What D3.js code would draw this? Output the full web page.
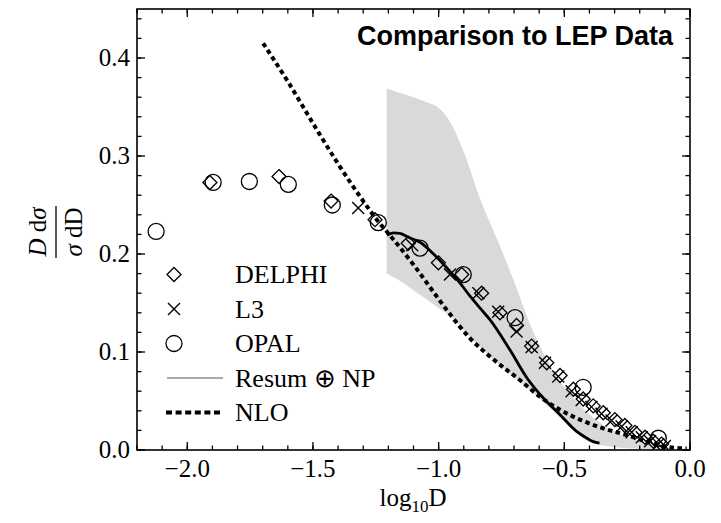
<!DOCTYPE html>
<html>
<head>
<meta charset="utf-8">
<script src="https://cdn.jsdelivr.net/npm/d3@7"></script>
<style>
  body { margin: 0; background: #fff; }
  svg { display: block; }
</style>
</head>
<body>
<script>
// ---- data ---------------------------------------------------------------
const xMajorTicks = [-2.0, -1.5, -1.0, -0.5, 0.0];
const yMajorTicks = [0.0, 0.1, 0.2, 0.3, 0.4];

// LEP measurements: [log10 D, (D/sigma) dsigma/dD]
const delphi = [
  [-1.910, 0.273], [-1.635, 0.279], [-1.428, 0.254], [-1.253, 0.235],
  [-1.121, 0.211], [-1.001, 0.191], [-0.908, 0.179], [-0.829, 0.160],
  [-0.756, 0.140], [-0.690, 0.127], [-0.630, 0.106], [-0.570, 0.089],
  [-0.517, 0.076], [-0.464, 0.062], [-0.425, 0.052], [-0.385, 0.045],
  [-0.345, 0.038], [-0.299, 0.031], [-0.259, 0.025], [-0.219, 0.018],
  [-0.179, 0.013], [-0.146, 0.009], [-0.113, 0.006]
];
const l3 = [
  [-1.320, 0.247], [-1.105, 0.209], [-0.955, 0.179], [-0.842, 0.160],
  [-0.763, 0.141], [-0.690, 0.121], [-0.630, 0.105], [-0.577, 0.089],
  [-0.524, 0.075], [-0.471, 0.060], [-0.431, 0.051], [-0.392, 0.044],
  [-0.352, 0.037], [-0.312, 0.030], [-0.272, 0.024], [-0.232, 0.018],
  [-0.192, 0.013], [-0.159, 0.009], [-0.126, 0.006], [-0.100, 0.004]
];
const opal = [
  [-2.124, 0.223], [-1.897, 0.273], [-1.753, 0.274], [-1.598, 0.271],
  [-1.423, 0.250], [-1.240, 0.232], [-1.074, 0.206], [-0.902, 0.179],
  [-0.696, 0.135], [-0.425, 0.064], [-0.126, 0.012]
];

// Resummed + non-perturbative prediction
const resumNP = [
  [-1.205, 0.219], [-1.180, 0.2215], [-1.154, 0.221], [-1.120, 0.217],
  [-1.074, 0.212], [-1.020, 0.200], [-0.968, 0.186], [-0.920, 0.172],
  [-0.875, 0.157], [-0.836, 0.145], [-0.796, 0.133], [-0.716, 0.102],
  [-0.650, 0.074], [-0.580, 0.052], [-0.517, 0.036], [-0.451, 0.019],
  [-0.410, 0.012], [-0.385, 0.0085], [-0.360, 0.007]
];

// Fixed-order NLO prediction
const nlo = [
  [-1.698, 0.415], [-1.600, 0.376], [-1.485, 0.327], [-1.400, 0.292],
  [-1.300, 0.254], [-1.240, 0.233], [-1.200, 0.221], [-1.100, 0.189],
  [-1.000, 0.154], [-0.968, 0.143], [-0.875, 0.114], [-0.780, 0.092],
  [-0.677, 0.0714], [-0.600, 0.055], [-0.517, 0.041], [-0.438, 0.031],
  [-0.345, 0.022], [-0.252, 0.0153], [-0.173, 0.0085], [-0.080, 0.0027],
  [-0.013, 0.0015]
];

// Theory uncertainty band
const bandX  = [-1.207, -1.15, -1.10, -1.05, -0.995, -0.95, -0.903, -0.836, -0.769,
                -0.703, -0.637, -0.57, -0.517, -0.464, -0.42, -0.385, -0.30, -0.20, -0.12];
const bandHi = [0.369, 0.364, 0.360, 0.355, 0.348, 0.333, 0.306, 0.257, 0.216,
                0.174, 0.129, 0.092, 0.070, 0.053, 0.041, 0.033, 0.019, 0.009, 0.003];
const bandLo = [0.180, 0.172, 0.163, 0.154, 0.144, 0.136, 0.123, 0.105, 0.089,
                0.075, 0.061, 0.046, 0.033, 0.020, 0.011, 0.007, 0.003, 0.001, 0.000];

const legendLabels = ["DELPHI", "L3", "OPAL", "Resum \u2295 NP", "NLO"];
const titleText = "Comparison to LEP Data";

// ---- layout -------------------------------------------------------------
const W = 721, H = 523;
const plotL = 137, plotR = 690, plotT = 9, plotB = 450;
const serif = "'Liberation Serif', 'Times New Roman', serif";
const sans = "'Liberation Sans', Arial, sans-serif";

const x = d3.scaleLinear().domain([-2.2, 0]).range([plotL, plotR]);
const y = d3.scaleLinear().domain([0, 0.45]).range([plotB, plotT]);

const svg = d3.select("body").append("svg")
  .attr("width", W).attr("height", H)
  .attr("viewBox", `0 0 ${W} ${H}`);

svg.append("clipPath").attr("id", "plotClip")
  .append("rect").attr("x", plotL).attr("y", plotT)
  .attr("width", plotR - plotL).attr("height", plotB - plotT);

const plot = svg.append("g").attr("clip-path", "url(#plotClip)");

// uncertainty band
const bandData = bandX.map((v, i) => ({ x: v, lo: bandLo[i], hi: bandHi[i] }));
plot.append("path")
  .datum(bandData)
  .attr("fill", "#d9d9d9")
  .attr("d", d3.area()
    .x(d => x(d.x)).y0(d => y(d.lo)).y1(d => y(d.hi))
    .curve(d3.curveMonotoneX));

const line = d3.line().x(d => x(d[0])).y(d => y(d[1])).curve(d3.curveMonotoneX);

plot.append("path").datum(nlo)
  .attr("fill", "none").attr("stroke", "#000")
  .attr("stroke-width", 4).attr("stroke-dasharray", "4.5,3.5")
  .attr("d", line);

plot.append("path").datum(resumNP)
  .attr("fill", "none").attr("stroke", "#000")
  .attr("stroke-width", 2.8)
  .attr("d", line);

// markers
const diamond = (g, cx, cy, r) => g.append("path")
  .attr("d", `M${cx},${cy - r}L${cx + r},${cy}L${cx},${cy + r}L${cx - r},${cy}Z`)
  .attr("fill", "none").attr("stroke", "#000").attr("stroke-width", 1.3);
const cross = (g, cx, cy, r) => g.append("path")
  .attr("d", `M${cx - r},${cy - r}L${cx + r},${cy + r}M${cx - r},${cy + r}L${cx + r},${cy - r}`)
  .attr("fill", "none").attr("stroke", "#000").attr("stroke-width", 1.4);
const ring = (g, cx, cy, r) => g.append("circle")
  .attr("cx", cx).attr("cy", cy).attr("r", r)
  .attr("fill", "none").attr("stroke", "#000").attr("stroke-width", 1.3);

const marks = plot.append("g");
delphi.forEach(d => diamond(marks, x(d[0]), y(d[1]), 7));
l3.forEach(d => cross(marks, x(d[0]), y(d[1]), 6));
opal.forEach(d => ring(marks, x(d[0]), y(d[1]), 8));

// ---- frame and ticks ----------------------------------------------------
const minorX = d3.range(-22, 1).map(i => i / 10);
const minorY = d3.range(0, 23).map(i => i / 50);

function drawTicks(scale, values, len, orient) {
  const g = svg.append("g");
  values.forEach(v => {
    const p = scale(v);
    if (orient === "bottom") g.append("line").attr("x1", p).attr("x2", p).attr("y1", plotB).attr("y2", plotB - len);
    if (orient === "top")    g.append("line").attr("x1", p).attr("x2", p).attr("y1", plotT).attr("y2", plotT + len);
    if (orient === "left")   g.append("line").attr("y1", p).attr("y2", p).attr("x1", plotL).attr("x2", plotL + len);
    if (orient === "right")  g.append("line").attr("y1", p).attr("y2", p).attr("x1", plotR).attr("x2", plotR - len);
  });
  g.selectAll("line").attr("stroke", "#000").attr("stroke-width", 1.3);
}
drawTicks(x, minorX, 4.5, "bottom");
drawTicks(x, minorX, 4.5, "top");
drawTicks(x, xMajorTicks, 8, "bottom");
drawTicks(x, xMajorTicks, 8, "top");
drawTicks(y, minorY, 4.5, "left");
drawTicks(y, minorY, 4.5, "right");
drawTicks(y, yMajorTicks, 8, "left");
drawTicks(y, yMajorTicks, 8, "right");

svg.append("rect")
  .attr("x", plotL).attr("y", plotT)
  .attr("width", plotR - plotL).attr("height", plotB - plotT)
  .attr("fill", "none").attr("stroke", "#000").attr("stroke-width", 1.6);

// tick labels
const fmtX = v => (v < 0 ? "\u2212" : "") + Math.abs(v).toFixed(1);
svg.append("g").selectAll("text").data(xMajorTicks).join("text")
  .attr("x", d => x(d)).attr("y", 477)
  .attr("text-anchor", "middle")
  .attr("font-family", serif).attr("font-size", 25)
  .text(fmtX);

svg.append("g").selectAll("text").data(yMajorTicks).join("text")
  .attr("x", 130).attr("y", d => y(d) + 8)
  .attr("text-anchor", "end")
  .attr("font-family", serif).attr("font-size", 25)
  .text(d => d.toFixed(1));

// axis titles
const xl = svg.append("text")
  .attr("x", 413).attr("y", 506).attr("text-anchor", "middle")
  .attr("font-family", serif).attr("font-size", 25);
xl.append("tspan").text("log");
xl.append("tspan").attr("font-size", 17).attr("dy", 6).text("10");
xl.append("tspan").attr("dy", -6).text("D");

const yl = svg.append("g").attr("transform", "translate(56,232) rotate(-90)");
const num = yl.append("text").attr("x", 0).attr("y", -10).attr("text-anchor", "middle")
  .attr("font-family", serif).attr("font-size", 25);
num.append("tspan").attr("font-style", "italic").text("D");
num.append("tspan").text(" d");
num.append("tspan").attr("font-style", "italic").text("\u03C3");
yl.append("line").attr("x1", -26).attr("x2", 26).attr("y1", 0).attr("y2", 0)
  .attr("stroke", "#000").attr("stroke-width", 1.3);
const den = yl.append("text").attr("x", 0).attr("y", 26).attr("text-anchor", "middle")
  .attr("font-family", serif).attr("font-size", 25);
den.append("tspan").attr("font-style", "italic").text("\u03C3");
den.append("tspan").text(" dD");

// title
svg.append("text")
  .attr("x", 673).attr("y", 45).attr("text-anchor", "end")
  .attr("font-family", sans).attr("font-weight", "bold").attr("font-size", 27)
  .text(titleText);

// ---- legend -------------------------------------------------------------
const lg = svg.append("g");
const legendBase = 283, legendStep = 34.5, symX = 174, textX = 235;
legendLabels.forEach((label, i) => {
  const base = legendBase + i * legendStep;
  const cy = base - 8.5;
  if (i === 0) diamond(lg, symX, cy, 7);
  if (i === 1) cross(lg, symX, cy, 6);
  if (i === 2) ring(lg, symX, cy, 8);
  if (i === 3) lg.append("line").attr("x1", 167).attr("x2", 223).attr("y1", cy).attr("y2", cy)
    .attr("stroke", "#555").attr("stroke-width", 1.2);
  if (i === 4) lg.append("line").attr("x1", 166).attr("x2", 220).attr("y1", cy).attr("y2", cy)
    .attr("stroke", "#000").attr("stroke-width", 4).attr("stroke-dasharray", "6,3.6");
  lg.append("text").attr("x", textX).attr("y", base)
    .attr("font-family", serif).attr("font-size", 26)
    .text(label);
});
</script>
</body>
</html>
